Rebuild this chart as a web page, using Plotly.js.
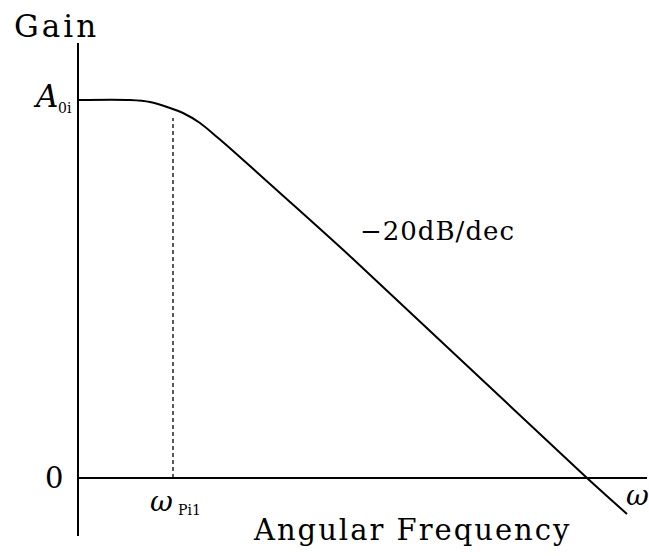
<!DOCTYPE html>
<html>
<head>
<meta charset="utf-8">
<script src="https://cdn.plot.ly/plotly-3.0.1.min.js"></script>
<style>
  html, body { margin: 0; padding: 0; background: #ffffff; }
  #chart { width: 649px; height: 556px; }
</style>
</head>
<body>
<div id="chart"></div>
<script>
// Gain response of a single-pole stage: log frequency (decades) vs gain (dB)
const logOmega = [0, 0.52, 0.72, 0.92, 1.05, 1.22, 1.39, 1.54, 2.02, 2.74, 5.09, 5.49];
const gainDb   = [80, 80, 79.58, 78.31, 77.25, 75.13, 72.17, 69.42, 60.32, 46.56, 0, -7.62];

// pole frequency marker
const poleX = [0.95, 0.95];
const poleY = [0, 76.2];

// text drawn on the chart
const yTitle = 'Gain';
const xTitle = 'Angular Frequency';
const slopeLabel = '\u221220dB/dec';
const gainSymbol = 'A';
const gainSub = '0i';
const zeroLabel = '0';
const omegaSym = '\u03c9';
const poleSub = 'Pi1';

const W = 649, H = 556;
const M = { l: 78, r: 2, t: 43, b: 20 };
const PW = W - M.l - M.r, PH = H - M.t - M.b;
// pixel position -> paper coordinates
const px = v => (v - M.l) / PW;
const py = v => (H - M.b - v) / PH;

const serif = 'DejaVu Serif, Liberation Serif, serif';

// wider tracking for the serif labels
const spaced = (t, s) => '<span style="letter-spacing:' + s + 'px">' + t + '</span>';

function label(text, x, y, size, extra) {
  return Object.assign({
    text: text, xref: 'paper', yref: 'paper', x: px(x), y: py(y),
    xanchor: 'center', yanchor: 'middle', showarrow: false,
    font: { family: serif, size: size, color: '#000' }
  }, extra || {});
}

const traces = [
  {
    x: logOmega, y: gainDb, type: 'scatter', mode: 'lines',
    line: { color: '#000', width: 2, shape: 'spline', smoothing: 0.8 },
    hoverinfo: 'skip', cliponaxis: false
  },
  {
    x: poleX, y: poleY, type: 'scatter', mode: 'lines',
    line: { color: '#000', width: 1.3, dash: '4px,3px' },
    hoverinfo: 'skip'
  }
];

const layout = {
  width: W, height: H,
  margin: M,
  paper_bgcolor: '#fff', plot_bgcolor: '#fff',
  showlegend: false,
  xaxis: {
    range: [0, PW / 100], showgrid: false, showticklabels: false, ticks: '',
    zeroline: true, zerolinecolor: '#000', zerolinewidth: 2, showline: false, fixedrange: true
  },
  yaxis: {
    range: [-(H - M.b - 478) / 4.725, (478 - M.t) / 4.725], showgrid: false, showticklabels: false, ticks: '',
    zeroline: true, zerolinecolor: '#000', zerolinewidth: 2, showline: false, fixedrange: true
  },
  annotations: [
    label(spaced(yTitle, 3), 56, 26, 31),
    label(spaced(xTitle, 2), 412, 530, 29),
    label(spaced(slopeLabel, 1), 437, 231, 26),
    label(zeroLabel, 54, 478, 29),
    label('<i>' + gainSymbol + '</i>', 45, 96, 31),
    label(gainSub, 65, 108, 14),
    label('<i>' + omegaSym + '</i>', 161, 501, 28),
    label(poleSub, 189, 510, 14),
    label('<i>' + omegaSym + '</i>', 637, 495, 28)
  ]
};

Plotly.newPlot('chart', traces, layout, { staticPlot: true, displayModeBar: false });
</script>
</body>
</html>
